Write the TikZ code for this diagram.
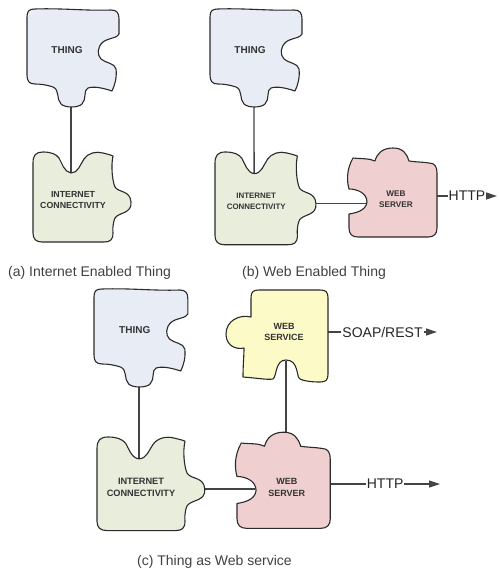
\documentclass[tikz,border=0pt]{standalone}
\usepackage{fontspec}
\setmainfont{Liberation Sans}
\usetikzlibrary{arrows.meta}
\pgfdeclarelayer{bg}
\pgfsetlayers{bg,main}
\definecolor{thingfill}{HTML}{E8ECF5}
\definecolor{icfill}{HTML}{E8EDDC}
\definecolor{wsfill}{HTML}{EFCFCF}
\definecolor{svcfill}{HTML}{FCFAC6}
\definecolor{edgecol}{HTML}{2A2A2A}
\definecolor{wirecol}{HTML}{444444}
\definecolor{txt}{HTML}{333333}
\definecolor{captxt}{HTML}{404040}
\tikzset{
  piece/.style={draw=edgecol, line width=1.1pt, line join=round},
  wire/.style={draw=wirecol, line width=1.3pt},
  lbl/.style 2 args={font=\bfseries\fontsize{#1}{#2}\selectfont, text=txt, align=center, inner sep=0pt},
  caption/.style={font=\fontsize{14}{16}\selectfont, text=captxt, anchor=west, inner sep=0pt},
  proto/.style={font=\fontsize{14}{16}\selectfont, text=black!85, fill=white, inner sep=1pt},
  arrowtip/.style={-{Triangle[length=11pt,width=7pt]}},
  thingpic/.pic={
    \path[piece, fill=thingfill] (8,0) .. controls (35,-1) and (60,2) .. (84,1)
      .. controls (90,1) and (92,4) .. (92,10) -- (92,25)
      .. controls (91,29) and (81,29) .. (76,33)
      .. controls (70,38) and (70,46) .. (74,50)
      .. controls (78,54) and (88,54) .. (89,60)
      .. controls (90,68) and (88,76) .. (85,82)
      .. controls (76,79) and (67,77) .. (61,79)
      .. controls (56,81) and (60,90) .. (55,95)
      .. controls (51,99) and (38,99) .. (34,95)
      .. controls (29,90) and (33,81) .. (26,78)
      .. controls (20,76) and (14,75) .. (8,75)
      .. controls (2,75) and (0,72) .. (0,66) -- (0,8)
      .. controls (0,2) and (2,0) .. (8,0) -- cycle;
    \coordinate (-tab) at (44,97);
    \coordinate (-c) at (40,41);
  },
  icpic/.pic={
    \path[piece, fill=icfill] (0,11) .. controls (0,3) and (3,0) .. (10,0)
      .. controls (18,0) and (23,2) .. (26,6)
      .. controls (29,11) and (31,20) .. (38,21)
      .. controls (45,21) and (47,13) .. (51,7)
      .. controls (55,1) and (63,-1) .. (70,1)
      .. controls (74,2) and (78,3) .. (80,4)
      .. controls (78,13) and (79,28) .. (82,35)
      .. controls (86,41) and (97,38) .. (98,50)
      .. controls (99,62) and (86,60) .. (82,66)
      .. controls (79,73) and (80,80) .. (80,81)
      .. controls (80,88) and (77,90) .. (71,90) -- (9,90)
      .. controls (3,90) and (0,87) .. (0,81) -- cycle;
    \coordinate (-socket) at (38,21);
    \coordinate (-tab) at (97,50);
    \coordinate (-c) at (40,48);
  },
  serverpic/.pic={
    \path[piece, fill=wsfill] (4,0) .. controls (12,1) and (20,0) .. (26,3)
      .. controls (28,-5) and (34,-10) .. (44,-10)
      .. controls (54,-10) and (58,-4) .. (60,3)
      .. controls (66,4) and (74,4) .. (80,5)
      .. controls (86,5) and (88,9) .. (88,15) -- (88,70)
      .. controls (88,76) and (85,79) .. (79,79) -- (9,79)
      .. controls (3,79) and (0,76) .. (0,70) -- (0,56)
      .. controls (6,55) and (17,53) .. (18,44)
      .. controls (18,35) and (8,31) .. (0,31)
      .. controls (-2,24) and (-3,12) .. (4,0) -- cycle;
    \coordinate (-tab) at (44,-9);
    \coordinate (-socket) at (17,44);
    \coordinate (-r) at (88,38);
    \coordinate (-c) at (47,41);
  },
  servicepic/.pic={
    \path[piece, fill=svcfill] (8,0) -- (69,0)
      .. controls (75,0) and (77,2) .. (77,8) -- (77,84)
      .. controls (77,90) and (75,92) .. (69,92)
      .. controls (60,92) and (53,91) .. (49,89)
      .. controls (45,87) and (48,70) .. (35,70)
      .. controls (24,70) and (26,86) .. (22,89)
      .. controls (16,90) and (6,88) .. (-8,87)
      .. controls (-8,75) and (-7,66) .. (-7,58)
      .. controls (-16,60) and (-25,55) .. (-25,44)
      .. controls (-25,31) and (-12,24) .. (0,27) -- (0,8)
      .. controls (0,2) and (2,0) .. (8,0) -- cycle;
    \coordinate (-socket) at (35,71);
    \coordinate (-tab) at (-24,44);
    \coordinate (-r) at (77,42);
    \coordinate (-c) at (33,42);
  }
}
\begin{document}
\begin{tikzpicture}[x=1pt,y=-1pt]
\useasboundingbox (0,0) rectangle (498,572);

% (a)
\pic (tha) at (27,9) {thingpic};
\pic (ica) at (33,152) {icpic};
\node[lbl={10}{12}] (thal) at (tha-c) {THING};
\node[lbl={8.8}{11.5}] (ical) at (ica-c) {INTERNET\\CONNECTIVITY};
\node[caption] (capa) at (8,273) {(a) Internet Enabled Thing};

% (b)
\pic (thb) at (210,9) {thingpic};
\pic[xscale=1.03,yscale=1.03] (icb) at (215,152) {icpic};
\pic (wsb) at (349,158) {serverpic};
\node[lbl={10}{12}] (thbl) at (thb-c) {THING};
\node[lbl={7.9}{10.5}] (icbl) at (icb-c) {INTERNET\\CONNECTIVITY};
\node[lbl={8.2}{10.5}] (wsbl) at (wsb-c) {WEB\\SERVER};
\coordinate (hb) at (497,196);
\node[caption] (capb) at (242,273) {(b) Web Enabled Thing};

% (c)
\pic[xscale=1.02] (thc) at (94,289) {thingpic};
\pic[xscale=1.1,yscale=1.04] (icc) at (97,437) {icpic};
\pic (svc) at (251,290) {servicepic};
\pic[xscale=1.06,yscale=1.08] (wsc) at (237,443) {serverpic};
\node[lbl={10}{12}] (thcl) at (thc-c) {THING};
\node[lbl={9.2}{12}] (iccl) at (icc-c) {INTERNET\\CONNECTIVITY};
\node[lbl={9}{11.5}] (svcl) at (svc-c) {WEB\\SERVICE};
\node[lbl={9}{11.5}] (wscl) at (wsc-c) {WEB\\SERVER};
\coordinate (soap) at (437,332);
\coordinate (hc) at (440,484);
\node[caption] (capc) at (137,562) {(c) Thing as Web service};

\begin{pgfonlayer}{bg}
  \draw[wire] (tha-tab) -- (ica-socket);
  \draw[wire] (thb-tab) -- (icb-socket);
  \draw[wire] (icb-tab) -- (icb-tab -| wsb-socket);
  \draw[wire, arrowtip] (wsb-r) -- node[proto] (httpb) {HTTP} (hb);
  \draw[wire] (thc-tab) -- (thc-tab |- icc-socket);
  \draw[wire] (icc-tab) -- (icc-tab -| wsc-socket);
  \draw[wire] (svc-socket) -- (svc-socket |- wsc-tab);
  \draw[wire, arrowtip] (svc-r) -- node[proto] (soapl) {SOAP/REST} (soap);
  \draw[wire, arrowtip] (wsc-r) -- node[proto] (httpc) {HTTP} (wsc-r -| hc);
\end{pgfonlayer}
\end{tikzpicture}
\end{document}
